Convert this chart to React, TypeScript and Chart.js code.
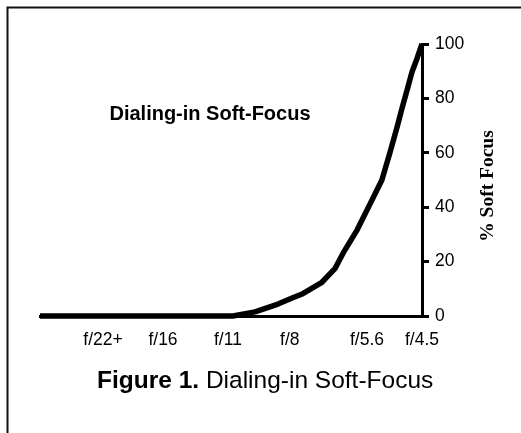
import React, { useEffect, useRef } from "react";
import { Chart, registerables } from "chart.js";

Chart.register(...registerables);

// Dial position along the aperture scale (0 = fully stopped down, 100 = wide open)
const dialPosition = [0, 50.5, 56.3, 62.3, 66.0, 68.8, 73.8, 77.2, 79.3, 83.0, 86.9, 89.5, 91.6, 93.5, 94.8, 96.1, 97.4, 98.7, 100];
const softFocusPct = [0, 0, 1.5, 4.4, 6.6, 8.2, 12.4, 17.4, 23, 31.6, 42.6, 50, 60, 69.6, 76.5, 83.1, 89.8, 94.7, 100];

const apertureTickValues = [16.5, 32.2, 49.2, 65.4, 85.6, 100];
const apertureTickLabels = ["f/22+", "f/16", "f/11", "f/8", "f/5.6", "f/4.5"];

const yTickStep = 20;
const chartTitle = "Dialing-in Soft-Focus";
const yAxisTitle = "% Soft Focus";
const captionBold = "Figure 1.";
const captionRest = " Dialing-in Soft-Focus";

const SANS = "'Liberation Sans', Arial, sans-serif";
const SERIF = "'Liberation Serif', 'Times New Roman', serif";

const decorPlugin = {
  id: "decor",
  afterDraw(chart: any) {
    const ctx = chart.ctx as CanvasRenderingContext2D;
    ctx.save();
    // frame
    ctx.strokeStyle = "#111";
    ctx.lineWidth = 2;
    ctx.beginPath();
    ctx.moveTo(7.5, 433);
    ctx.lineTo(7.5, 7.5);
    ctx.lineTo(521, 7.5);
    ctx.stroke();

    ctx.fillStyle = "#000";
    // inner title
    ctx.font = `bold 20px ${SANS}`;
    ctx.textAlign = "center";
    ctx.textBaseline = "alphabetic";
    ctx.fillText(chartTitle, 210, 120);

    // y axis title rotated
    ctx.save();
    ctx.translate(493, 186);
    ctx.rotate(-Math.PI / 2);
    ctx.font = `bold 19.5px ${SERIF}`;
    ctx.textAlign = "center";
    ctx.textBaseline = "alphabetic";
    ctx.fillText(yAxisTitle, 0, 0);
    ctx.restore();

    // caption
    ctx.textAlign = "left";
    ctx.font = `bold 24.5px ${SANS}`;
    const x0 = 97;
    ctx.fillText(captionBold, x0, 388);
    const w = ctx.measureText(captionBold).width;
    ctx.font = `24.5px ${SANS}`;
    ctx.fillText(captionRest, x0 + w, 388);
    ctx.restore();
  },
};

export default function App() {
  const ref = useRef<HTMLCanvasElement>(null);

  useEffect(() => {
    if (!ref.current) return;
    const chart = new Chart(ref.current, {
      type: "line",
      data: {
        datasets: [
          {
            data: dialPosition.map((x, i) => ({ x, y: softFocusPct[i] })),
            borderColor: "#000",
            borderWidth: 5.5,
            pointRadius: 0,
            tension: 0,
            fill: false,
            clip: false as any,
            borderCapStyle: "butt",
            borderJoinStyle: "round",
          },
        ],
      },
      plugins: [decorPlugin],
      options: {
        animation: false,
        responsive: false,
        devicePixelRatio: 1,
        layout: { padding: { left: 40, top: 44, right: 0, bottom: 0 } },
        plugins: {
          legend: { display: false },
          title: { display: false },
          tooltip: { enabled: false },
        },
        scales: {
          x: {
            type: "linear",
            min: 0,
            max: 100,
            afterFit(scale: any) {
              scale.height = 117;
            },
            afterBuildTicks(scale: any) {
              scale.ticks = apertureTickValues.map((v) => ({ value: v }));
            },
            ticks: {
              autoSkip: false,
              maxRotation: 0,
              padding: 14,
              color: "#000",
              font: { family: SANS, size: 17.5 },
              callback: (v: any) => {
                const i = apertureTickValues.indexOf(Number(v));
                return i >= 0 ? apertureTickLabels[i] : "";
              },
            },
            grid: { display: false, drawTicks: false, tickLength: 0 },
            border: { display: true, color: "#000", width: 3 },
          },
          y: {
            position: "right",
            min: 0,
            max: 100,
            afterFit(scale: any) {
              scale.width = 99;
            },
            ticks: {
              stepSize: yTickStep,
              padding: 6,
              color: "#000",
              font: { family: SANS, size: 17.5 },
            },
            grid: {
              drawOnChartArea: false,
              drawTicks: true,
              tickLength: 7,
              tickWidth: 3,
              tickColor: "#000",
              color: "#000",
              lineWidth: 3,
            },
            border: { display: true, color: "#000", width: 3 },
          },
        },
      },
    });
    return () => chart.destroy();
  }, []);

  return (
    <div style={{ position: "absolute", left: 0, top: 0, width: 521, height: 433, background: "#fff" }}>
      <canvas ref={ref} width={521} height={433} style={{ display: "block", width: 521, height: 433 }} />
    </div>
  );
}
